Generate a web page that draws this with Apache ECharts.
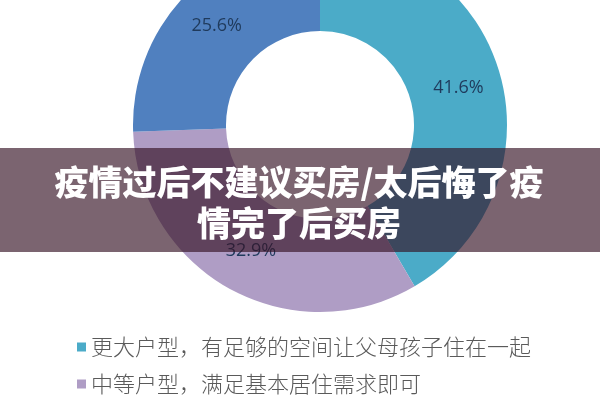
<!DOCTYPE html>
<html>
<head>
<meta charset="utf-8">
<script src="https://cdn.jsdelivr.net/npm/echarts@6/dist/echarts.min.js"></script>
<style>
  html, body { margin: 0; padding: 0; background: #fff; }
  #main { width: 600px; height: 400px; }
</style>
</head>
<body>
<div id="main"></div>
<script>
// 户型偏好（百分比）
var categories = [
    '更大户型，有足够的空间让父母孩子住在一起',
    '中等户型，满足基本居住需求即可',
    '小户型'
];
var values = [41.6, 32.9, 25.6];
var legendNames = [categories[0], categories[1]];   // 第三项在图外被裁掉
var titleText = '疫情过后不建议买房/太后悔了疫\n情完了后买房';

var sliceColors = ['#4babc8', '#af9dc5', '#5080bf'];

var chart = echarts.init(document.getElementById('main'));

var pieData = categories.map(function (name, i) {
    return {
        name: name,
        value: values[i],
        itemStyle: { color: sliceColors[i] }
    };
});

chart.setOption({
    animation: false,
    backgroundColor: '#fff',
    legend: {
        data: legendNames,
        orient: 'vertical',
        left: 77,
        top: 336,
        icon: 'rect',
        itemWidth: 9,
        itemHeight: 9,
        itemGap: 15,
        padding: 0,
        selectedMode: false,
        textStyle: {
            color: '#5a5a5a',
            fontSize: 22,
            fontFamily: 'Noto Sans CJK SC',
            fontWeight: 300
        }
    },
    graphic: [{
        type: 'rect',
        z: 8,
        shape: { x: 0, y: 148, width: 600, height: 104 },
        style: { fill: 'rgba(52,17,35,0.65)' }
    }, {
        // 横幅标题
        type: 'text',
        z: 9,
        x: 299,
        y: 162,
        style: {
            text: titleText,
            align: 'center',
            verticalAlign: 'top',
            fill: '#fff',
            fontSize: 34,
            lineHeight: 41,
            fontWeight: 900,
            fontFamily: 'Noto Sans CJK SC'
        }
    }],
    series: [{
        type: 'pie',
        center: [320, 125],
        radius: [94, 187],
        startAngle: 90,
        clockwise: true,
        silent: true,
        label: {
            show: true,
            position: 'inside',
            formatter: '{c}%',
            color: '#1f3a5c',
            fontSize: 18,
            fontFamily: 'Open Sans'
        },
        labelLine: { show: false },
        data: pieData
    }]
});
</script>
</body>
</html>
